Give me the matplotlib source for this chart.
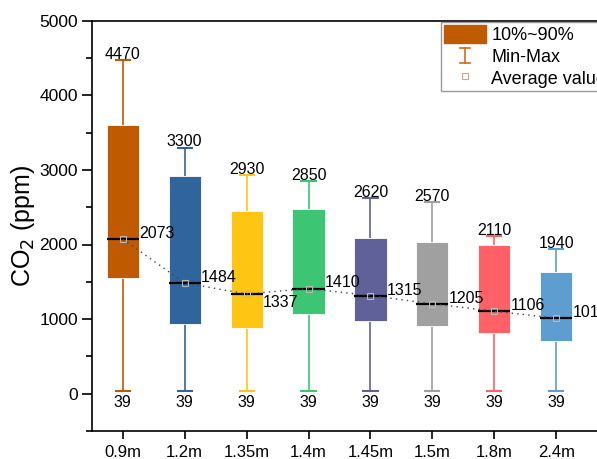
import matplotlib
matplotlib.use("Agg")
import matplotlib.pyplot as plt
import numpy as np
from matplotlib.patches import Rectangle
from matplotlib.lines import Line2D
from matplotlib.legend_handler import HandlerBase

plt.rcParams['font.family'] = ['Liberation Sans', 'DejaVu Sans']

categories = ['0.9m', '1.2m', '1.35m', '1.4m', '1.45m', '1.5m', '1.8m', '2.4m']
p10 = [1550, 940, 875, 1070, 980, 910, 815, 700]
p90 = [3600, 2920, 2450, 2480, 2090, 2030, 2000, 1630]
means = [2073, 1484, 1337, 1410, 1315, 1205, 1106, 1013]
maxs = [4470, 3300, 2930, 2850, 2620, 2570, 2110, 1940]
mins = [39, 39, 39, 39, 39, 39, 39, 39]
colors = ['#C05A00', '#30649C', '#FFC513', '#3CC673', '#616199', '#A0A0A0', '#FF6167', '#5E9DD0']

W, H = 597, 459
fig = plt.figure(figsize=(W / 100, H / 100), dpi=100)
left = 91.8 / W
bottom = (H - 431) / H
top = (H - 20.7) / H
ax = fig.add_axes([left, bottom, 596.5 / W - left, top - bottom])

x = np.arange(len(categories))
bw = 0.52
cw = 0.26
for i in range(len(categories)):
    c = colors[i]
    ax.vlines(x[i], mins[i], p10[i], color=c, lw=1.2, zorder=2)
    ax.vlines(x[i], p90[i], maxs[i], color=c, lw=1.2, zorder=2)
    ax.hlines([mins[i], maxs[i]], x[i] - cw / 2, x[i] + cw / 2, color=c, lw=1.5, zorder=2)
    ax.bar(x[i], p90[i] - p10[i], bottom=p10[i], width=bw, color=c,
           edgecolor='white', linewidth=0.6, zorder=3)
    ax.hlines(means[i], x[i] - bw / 2, x[i] + bw / 2, color='black', lw=1.6, zorder=4)
    ax.annotate(str(maxs[i]), (x[i], maxs[i]), xytext=(0, 1), textcoords='offset points',
                ha='center', va='baseline', fontsize=11.5)
    ax.annotate(str(mins[i]), (x[i], mins[i]), xytext=(0, -3), textcoords='offset points',
                ha='center', va='top', fontsize=11.5)
    if i == 2:
        ax.annotate(str(means[i]), (x[i] + bw / 2, means[i]), xytext=(0, -1),
                    textcoords='offset points', ha='left', va='top', fontsize=11.5, zorder=6)
    else:
        ax.annotate(str(means[i]), (x[i] + bw / 2, means[i]), xytext=(0, 4),
                    textcoords='offset points', ha='left', va='center', fontsize=11.5, zorder=6)

ax.plot(x, means, linestyle=(0, (1, 3)), color='#444444', lw=1.0, zorder=5)
ax.plot(x, means, linestyle='none', marker='s', markersize=4.5, markerfacecolor='none',
        markeredgecolor='#b8b8b8', markeredgewidth=0.8, zorder=5)

ax.set_xlim(-0.5, 7.65)
ax.set_ylim(-500, 5000)
ax.set_xticks(x)
ax.set_xticklabels(categories, fontsize=12)
ax.set_yticks(np.arange(0, 5001, 1000))
ax.set_yticks(np.arange(-500, 5001, 500), minor=True)
ax.tick_params(axis='y', which='major', direction='out', length=7, width=1.2, labelsize=12.5, pad=3)
ax.tick_params(axis='y', which='minor', direction='out', length=4, width=1.2)
ax.tick_params(axis='x', which='major', direction='out', length=6, width=1.2, labelsize=12, pad=4)
for s in ['left', 'bottom', 'top']:
    ax.spines[s].set_linewidth(1.2)
ax.spines['right'].set_visible(False)
ax.set_ylabel('CO$_2$ (ppm)', fontsize=18, labelpad=2)


class ErrHandler(HandlerBase):
    def create_artists(self, legend, orig_handle, xdescent, ydescent, width, height, fontsize, trans):
        cx = width / 2 - xdescent
        hw = width * 0.12
        y0 = -ydescent + height * 0.1
        y1 = -ydescent + height * 0.95
        c = orig_handle.get_color()
        l1 = Line2D([cx, cx], [y0, y1], color=c, lw=1.2, transform=trans)
        l2 = Line2D([cx - hw, cx + hw], [y0, y0], color=c, lw=1.2, transform=trans)
        l3 = Line2D([cx - hw, cx + hw], [y1, y1], color=c, lw=1.2, transform=trans)
        return [l1, l2, l3]


h1 = Rectangle((0, 0), 1, 1, facecolor='#C05A00', edgecolor='#C05A00')
h2 = Line2D([], [], color='#D2691E')
h3 = Line2D([], [], linestyle='none', marker='s', markersize=4, markerfacecolor='none',
            markeredgecolor='#E8A070', markeredgewidth=0.8)
leg = fig.legend([h1, h2, h3], ['10%~90%', 'Min-Max', 'Average value'],
                 handler_map={h2: ErrHandler()},
                 loc='upper left', bbox_to_anchor=(440.7 / W, (H - 21.5) / H),
                 fontsize=13, frameon=True, fancybox=False, handlelength=2.3,
                 handleheight=1.15, handletextpad=0.3, labelspacing=0.15,
                 borderpad=0.2, borderaxespad=0)
leg.get_frame().set_edgecolor('#808080')
leg.get_frame().set_linewidth(1.0)

fig.savefig('out.png', dpi=100)
